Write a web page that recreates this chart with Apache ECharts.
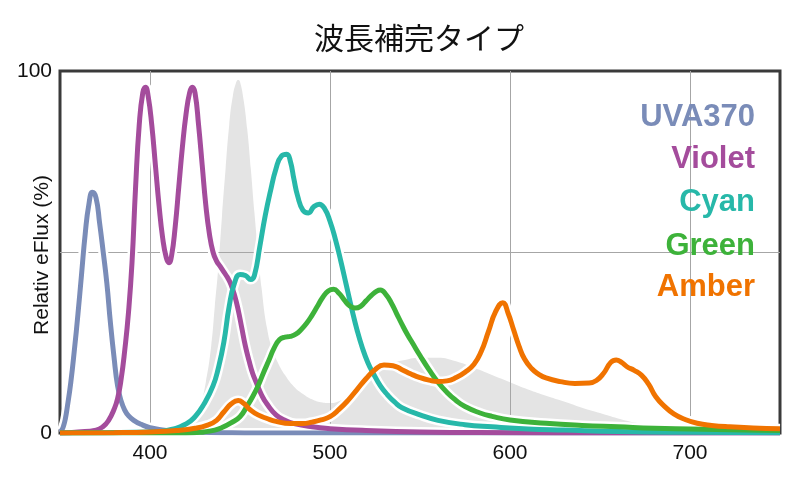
<!DOCTYPE html>
<html>
<head>
<meta charset="utf-8">
<script src="https://cdn.jsdelivr.net/npm/echarts@6/dist/echarts.min.js"></script>
<style>html,body{margin:0;padding:0;background:#fff;}#c{width:800px;height:480px;}</style>
</head>
<body>
<div id="c"></div>
<script>
// ---- data ----
var chartTitle = '波長補完タイプ';
var yAxisTitle = 'Relativ eFlux (%)';
var xTickLabels = [400, 500, 600, 700];
var yTickLabels = [0, 100];
var seriesNames = ['UVA370', 'Violet', 'Cyan', 'Green', 'Amber'];
var seriesColors = ['#7a8cb8', '#a44c9c', '#27b8a9', '#3db23a', '#f07300'];

var refNm  = [350,400,410,415,420,424,428,431,434,436,438,440,442,444,446,448,449,450,452,454,456,458,460,462,465,468,471,475,480,485,490,495,500,505,510,515,520,525,530,535,540,550,560,570,580,590,600,610,620,630,640,650,660,670,680,690,700,720,740,750];
var refVal = [0,0,0.3,0.8,2,4,8,14,24,35,46,60,73,85,93,97,97.5,97,92,84,73,61,50,40,29,23,19.5,16,12.8,10.8,9.3,8.5,8.3,8.8,10,12,14.5,16.5,18,19.3,20,20.8,20.8,19.8,18,16,14,12,10.3,8.7,7,5.5,4,2.8,1.8,1,0.5,0.1,0,0];

var uvaNm  = [350,351,352,353,354,356,358,360,362,364,366,368,370,372,374,376,378,380,382,384,386,388,391,395,400,410,420,440,460,750];
var uvaVal = [0.3,0.8,2,4,7,14,23,33,44,55,63,66.5,65,58,50,41.5,30.5,21,13,8.8,6.3,4.8,3.5,2.4,1.5,0.6,0.3,0.1,0,0];

var violetNm  = [350,360,370,374,377,380,382,384,386,388,390,392,394,396,397.5,399,401,403,405,407,409,410.5,412,414,416,418,420,422,423.5,425,427,429,431,433,435,437,439,441,443,445,447,449,451,453,455,457,459,462,465,470,475,480,490,500,520,550,600,650,750];
var violetVal = [0,0.3,0.8,1.8,3.5,6.5,9.5,15,23,33,47,68,85,94,95.5,93,85,74,63,54,48.5,47,49,57,68,79,88,94,95.5,94,85,74,63,55,50,47.5,46,44.5,43,41,38,34,29,24,20,16.5,14,10.5,8,5,3.5,2.6,1.7,1.2,0.7,0.3,0.1,0,0];

var cyanNm  = [350,400,410,420,425,430,435,438,441,444,447,450,453,456,458,461,464,467,470,473,476,478,480,482,485,488,491,494,497,500,503,506,509,512,515,518,521,524,528,532,536,540,550,560,575,590,610,630,660,700,750];
var cyanVal = [0,0.3,0.8,2.5,4.5,8,13,18,25,35,41.5,43.8,43.5,42.4,43.5,51.5,60,67,73,76.5,77,75,70,65.5,61.5,60.8,62.5,63.2,62,58.5,53.5,47.5,41,34.5,28.5,23.5,19.5,16.5,13,10.5,8.5,7,5,3.5,2.3,1.7,1.1,0.8,0.4,0.2,0.1];

var greenNm  = [350,420,430,436,440,445,450,454,457,460,463,466,469,472,475,478,481,484,487,490,493,496,499,502,505,508,511,514,517,520,523,526,528,531,534,537,540,543,546,550,555,560,565,570,575,583,590,600,620,640,660,680,700,730,750];
var greenVal = [0,0,0.3,0.8,1.5,2.8,4.5,7.5,10,13,16.6,20,23.5,25.8,26.5,26.7,27.3,28.6,30.3,32.5,35,37.5,39.2,39.7,38.6,36.7,35.1,34.5,35,36.5,38,39.2,39.5,38.3,36,33,30,27.2,24.7,21.4,17.5,14,11.2,9,7.3,5.6,4.6,3.6,2.7,2.1,1.7,1.3,1.1,0.8,0.7];

var amberNm  = [350,380,400,415,425,432,437,441,445,449,452,456,460,465,470,478,485,490,495,500,505,510,515,520,525,530,535,540,545,550,555,560,565,570,575,580,584,588,592,596,599,602,605,608,612,616,620,628,636,644,648,652,656,659,662,665,669,673,677,681,686,691,697,704,712,722,735,750];
var amberVal = [0,0.1,0.3,0.7,1.3,2.2,3.5,5.8,8,9,8.2,6.3,5,4,3.2,2.6,2.6,3,3.6,4.5,6.5,9,12,15,17.5,18.8,18.6,17.5,16.3,15.3,14.6,14.2,14.4,15.3,16.8,19,22.5,28,33.5,36,33,28.5,24,20.5,17.8,16.2,15.2,14.2,13.7,13.8,14.5,16.5,19.5,20.2,19.5,18.3,17.3,16,13.5,10,7.3,5.3,3.8,2.7,2.1,1.7,1.4,1.2];

function pairs(xs, ys) { return xs.map(function (x, i) { return [x, ys[i]]; }); }

var lineSets = [
  pairs(uvaNm, uvaVal),
  pairs(violetNm, violetVal),
  pairs(cyanNm, cyanVal),
  pairs(greenNm, greenVal),
  pairs(amberNm, amberVal)
];

var chart = echarts.init(document.getElementById('c'), null, {renderer: 'canvas'});

var SMOOTH = 0.5;
var series = [];
series.push({
  name: 'ref', type: 'line', data: pairs(refNm, refVal), smooth: SMOOTH, symbol: 'none',
  lineStyle: {width: 0, color: '#e4e4e4'}, areaStyle: {color: '#e4e4e4', opacity: 1},
  z: 1, silent: true
});
series.push({
  name: 'grid', type: 'line', data: [], symbol: 'none', silent: true, z: 2,
  markLine: {
    silent: true, symbol: ['none', 'none'], z: 2, animation: false,
    label: {show: false},
    lineStyle: {color: '#a6a6a6', width: 1, type: 'solid'},
    data: xTickLabels.map(function (v) { return {xAxis: v}; }).concat([{yAxis: 50}])
  }
});
lineSets.forEach(function (d, i) {
  series.push({
    name: seriesNames[i] + '-halo', type: 'line', data: d, smooth: SMOOTH, symbol: 'none',
    lineStyle: {width: 10, color: '#ffffff'}, z: 3, silent: true
  });
});
lineSets.forEach(function (d, i) {
  series.push({
    name: seriesNames[i], type: 'line', data: d, smooth: SMOOTH, symbol: 'none',
    lineStyle: {width: 5, color: seriesColors[i]}, z: 4
  });
});

var graphics = [
  {type: 'text', x: 419, y: 38, z: 10,
   style: {text: chartTitle, fill: '#111', font: 'normal 30px "Noto Sans CJK JP", sans-serif', textAlign: 'center', textVerticalAlign: 'middle'}},
  {type: 'text', x: 42, y: 255, rotation: Math.PI / 2, z: 10,
   style: {text: yAxisTitle, fill: '#111', font: 'normal 21px "Liberation Sans", Arial, sans-serif', textAlign: 'center', textVerticalAlign: 'middle'}}
];
var legendY = [117, 159.5, 202.5, 246, 287.5];
seriesNames.forEach(function (n, i) {
  graphics.push({type: 'text', x: 755, y: legendY[i], z: 10,
    style: {text: n, fill: seriesColors[i], font: 'bold 31px "Liberation Sans", Arial, sans-serif', textAlign: 'right', textVerticalAlign: 'middle'}});
});

chart.setOption({
  animation: false,
  backgroundColor: '#ffffff',
  grid: {left: 60, right: 20, top: 71, bottom: 47, show: true, borderColor: '#3a3a3a', borderWidth: 3, backgroundColor: 'transparent'},
  xAxis: {
    type: 'value', min: 350, max: 750, interval: 50,
    axisLine: {show: false}, axisTick: {show: false}, splitLine: {show: false},
    axisLabel: {
      margin: 10, color: '#111', fontSize: 21, fontFamily: 'Liberation Sans, Arial, sans-serif',
      formatter: function (v) { return xTickLabels.indexOf(v) >= 0 ? String(v) : ''; }
    }
  },
  yAxis: {
    type: 'value', min: 0, max: 100, interval: 50,
    axisLine: {show: false}, axisTick: {show: false}, splitLine: {show: false},
    axisLabel: {
      margin: 8, color: '#111', fontSize: 21, fontFamily: 'Liberation Sans, Arial, sans-serif',
      formatter: function (v) { return yTickLabels.indexOf(v) >= 0 ? String(v) : ''; }
    }
  },
  graphic: graphics,
  series: series
});
</script>
</body>
</html>
